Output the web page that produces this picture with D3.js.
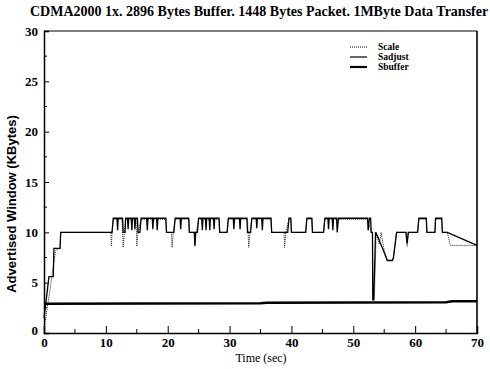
<!DOCTYPE html>
<html>
<head>
<meta charset="utf-8">
<script src="https://cdnjs.cloudflare.com/ajax/libs/d3/7.8.5/d3.min.js"></script>
<style>
  body { margin: 0; background: #fff; }
  svg { display: block; }
</style>
</head>
<body>
<div id="chart"></div>
<script>
// Chart values
var titleText = "CDMA2000 1x. 2896 Bytes Buffer. 1448 Bytes Packet. 1MByte Data Transfer";
var xTicks = [0, 10, 20, 30, 40, 50, 60, 70];
var yTicks = [0, 5, 10, 15, 20, 25, 30];
var legendLabels = ["Scale", "Sadjust", "Sbuffer"];

// [time (sec), window (KBytes)]
var sadjustData = [
  [0,1.5],[0.3,3],[0.8,5.6],[1.5,5.6],[1.6,8.4],[2.6,8.4],[2.7,10],[11.0,10],
  [11.2,11.4],[11.8,11.4],[11.9,10.2],[12.0,11.4],[12.7,11.4],[12.8,10],[13.1,10],
  [13.2,11.4],[13.5,11.4],[13.6,10.3],[13.7,11.4],[14.1,11.4],[14.2,10.2],[14.3,11.4],
  [14.6,11.4],[14.7,10.3],[14.8,11.4],[15.1,11.4],[15.2,10],[15.5,10],[15.7,11.4],
  [16.6,11.4],[16.7,10.2],[16.8,11.4],[17.5,11.4],[17.6,10.3],[17.7,11.4],[18.2,11.4],
  [18.3,10.2],[18.4,11.4],[19.7,11.4],[19.8,10],[21.0,10],[21.2,11.4],[22.0,11.4],
  [22.1,10.3],[22.2,11.4],[23.4,11.4],[23.5,10],[24.3,10],[24.4,8.7],[24.5,10],
  [24.8,10],[25.0,11.4],[25.5,11.4],[25.6,10.2],[25.7,11.4],[26.1,11.4],[26.2,10.2],
  [26.3,11.4],[26.7,11.4],[26.8,10.2],[26.9,11.4],[27.4,11.4],[27.5,10.3],[27.6,11.4],
  [28.3,11.4],[28.4,10],[29.6,10],[29.8,11.4],[30.6,11.4],[30.7,10.3],[30.8,11.4],
  [31.6,11.4],[31.7,10.3],[31.8,11.4],[32.8,11.4],[32.9,10],[33.4,10],[33.6,11.4],
  [34.3,11.4],[34.4,10.4],[34.5,11.4],[35.2,11.4],[35.3,10.2],[35.4,11.4],[36.7,11.4],
  [36.8,10],[39.4,10],[39.6,11.4],[39.9,11.4],[40.0,10],[42.3,10],[42.5,11.4],
  [43.3,11.4],[43.4,10],[45.2,10],[45.4,11.4],[45.9,11.4],[46.0,10.3],[46.1,11.4],
  [46.6,11.4],[46.7,10.2],[46.8,11.4],[47.3,11.4],[47.4,10],[47.6,11.4],[48.0,11.4],
  [52.3,11.4],[52.4,10.2],[52.6,11.4],[52.8,11.4],[52.9,10],[53.1,10],[53.15,3.3],
  [53.3,3.3],[53.6,10],[54.0,9.5],[54.4,8.9],[55.0,8.0],[55.5,7.2],[56.3,7.2],
  [56.5,7.5],[57.0,10],[58.5,10],[58.7,8.9],[58.9,10],[60.4,10],[60.6,11.4],
  [61.8,11.4],[61.9,10],[63.2,10],[63.3,11.4],[64.3,11.4],[64.4,10],[65.2,10],[70,8.7]
];

var scaleData = [
  [0,0.3],[0.6,2.8],[1.0,4.4],[1.4,6.2],[1.9,8.2],[2.6,8.4],[2.7,10],
  [10.8,10],[10.9,8.6],[11.0,10],[11.2,11.3],[12.6,11.3],[12.8,8.5],[13.0,10],
  [13.2,11.3],[14.9,11.3],[15.0,8.6],[15.2,10],[15.7,11.3],[19.7,11.3],[19.8,10],
  [20.6,10],[20.7,8.5],[20.9,10],[21.2,11.3],[23.4,11.3],[23.5,10],[24.3,10],
  [24.4,8.6],[24.6,10],[25.0,11.3],[28.3,11.3],[28.4,10],[29.6,10],[29.8,11.3],
  [32.9,11.3],[33.1,8.5],[33.3,10],[33.6,11.3],[36.7,11.3],[36.8,10],[38.8,10],
  [38.9,8.5],[39.1,10],[39.6,11.3],[39.9,11.3],[40.0,10],[42.3,10],[42.5,11.3],
  [43.3,11.3],[43.4,10],[45.2,10],[45.4,11.3],[52.3,11.3],[52.9,10],[53.1,10],
  [53.2,3.3],[53.4,3.3],[53.7,10],[54.2,8.8],[54.5,10],[55.0,8.2],[55.5,7.2],
  [56.4,7.2],[57.0,10],[58.6,10],[58.7,8.6],[58.9,10],[60.4,10],[60.6,11.3],
  [61.8,11.3],[61.9,10],[63.2,10],[63.3,11.3],[64.3,11.3],[64.4,10],[65.2,10],
  [65.7,8.7],[70,8.7]
];

var sbufferData = [[0,2.9],[35,2.95],[36,3.0],[65,3.05],[66,3.15],[70,3.15]];

var width = 490, height = 369,
    margin = {top: 31, right: 13, bottom: 36, left: 44};

var svg = d3.select("#chart").append("svg")
    .attr("width", width)
    .attr("height", height);

var x = d3.scaleLinear().domain([0, 70]).range([margin.left, width - margin.right]);
var y = d3.scaleLinear().domain([0, 30]).range([height - margin.bottom, margin.top]);

var serif = "'Liberation Serif', 'DejaVu Serif', serif";

// Title (runs off the right edge, as in the scan)
svg.append("text")
    .attr("x", 30).attr("y", 16)
    .style("font-family", serif)
    .style("font-weight", "bold")
    .style("font-size", "14px")
    .text(titleText);

// Frame (top and right)
svg.append("line")
    .attr("x1", x(0)).attr("x2", x(70)).attr("y1", y(30)).attr("y2", y(30))
    .attr("stroke", "#000").attr("stroke-width", 1);
svg.append("line")
    .attr("x1", x(70)).attr("x2", x(70)).attr("y1", y(30)).attr("y2", y(0))
    .attr("stroke", "#000").attr("stroke-width", 1.6);

// Minor ticks
svg.append("g").selectAll("line")
    .data(d3.range(2.5, 30, 5))
    .enter().append("line")
      .attr("x1", x(0)).attr("x2", x(0) + 3)
      .attr("y1", function(d) { return y(d); }).attr("y2", function(d) { return y(d); })
      .attr("stroke", "#000");
svg.append("g").selectAll("line")
    .data(d3.range(5, 70, 10))
    .enter().append("line")
      .attr("x1", function(d) { return x(d); }).attr("x2", function(d) { return x(d); })
      .attr("y1", y(0)).attr("y2", y(0) - 4)
      .attr("stroke", "#000");

// Axes, ticks point inward
var yAxis = svg.append("g")
    .attr("transform", "translate(" + x(0) + ",0)")
    .call(d3.axisLeft(y).tickValues(yTicks).tickSize(-5).tickPadding(6).tickFormat(d3.format("d")));
var xAxis = svg.append("g")
    .attr("transform", "translate(0," + y(0) + ")")
    .call(d3.axisBottom(x).tickValues(xTicks).tickSize(-7).tickPadding(5).tickFormat(d3.format("d")));

[yAxis, xAxis].forEach(function(a) {
  a.select(".domain").attr("stroke-width", 1.5);
  a.selectAll("text")
    .style("font-family", serif)
    .style("font-weight", "bold")
    .style("font-size", "13px")
    .attr("fill", "#000");
});
yAxis.selectAll(".tick").filter(function(d) { return d === 0; }).select("text").attr("dy", "0.1em");

// Axis titles
svg.append("text")
    .attr("transform", "translate(16," + ((y(0) + y(30)) / 2 + 22) + ") rotate(-90)")
    .attr("text-anchor", "middle")
    .style("font-family", "'Liberation Sans', Arial, sans-serif")
    .style("font-weight", "bold")
    .style("font-size", "13px")
    .text("Advertised Window (KBytes)");
svg.append("text")
    .attr("x", 261).attr("y", 362)
    .attr("text-anchor", "middle")
    .style("font-family", serif)
    .style("font-size", "12px")
    .text("Time (sec)");

// Lines
var line = d3.line()
    .x(function(d) { return x(d[0]); })
    .y(function(d) { return y(d[1]); });

svg.append("path").datum(sbufferData)
    .attr("d", line).attr("fill", "none")
    .attr("stroke", "#000").attr("stroke-width", 2.4);
svg.append("path").datum(scaleData)
    .attr("d", line).attr("fill", "none")
    .attr("stroke", "#222").attr("stroke-width", 1)
    .attr("stroke-dasharray", "1,1");
svg.append("path").datum(sadjustData)
    .attr("d", line).attr("fill", "none")
    .attr("stroke", "#000").attr("stroke-width", 1.3);

// Legend
var legendStyles = [
  {w: 1, dash: "1,1"},
  {w: 1.2, dash: null},
  {w: 2.2, dash: null}
];
var legend = svg.append("g").selectAll("g")
    .data(legendLabels)
    .enter().append("g")
      .attr("transform", function(d, i) { return "translate(350," + (47 + i * 10) + ")"; });
legend.append("line")
    .attr("x1", 0).attr("x2", 17).attr("y1", 0).attr("y2", 0)
    .attr("stroke", "#000")
    .attr("stroke-width", function(d, i) { return legendStyles[i].w; })
    .attr("stroke-dasharray", function(d, i) { return legendStyles[i].dash; });
legend.append("text")
    .attr("x", 28).attr("y", 3)
    .style("font-family", serif)
    .style("font-weight", "bold")
    .style("font-size", "9.5px")
    .text(function(d) { return d; });
</script>
</body>
</html>
